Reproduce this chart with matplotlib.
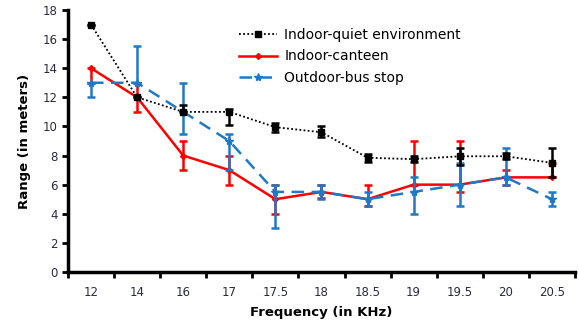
import numpy as np
import matplotlib.pyplot as plt

freqs = ['12', '14', '16', '17', '17.5', '18', '18.5', '19', '19.5', '20', '20.5']

quiet = [17, 12, 11, 11, 9.95, 9.6, 7.85, 7.75, 7.95, 7.95, 7.5]
quiet_lo = [0, 0, 0, 0.9, 0.35, 0.35, 0.3, 0.2, 0.6, 0.2, 1.0]
quiet_hi = [0, 0, 0.5, 0.2, 0.3, 0.4, 0.25, 0.2, 0.6, 0.2, 1.0]

canteen = [14, 12, 8, 7, 5, 5.5, 5, 6, 6, 6.5, 6.5]
canteen_lo = [1, 1, 1, 1, 1, 0.45, 0.5, 0, 0.5, 0.5, 0]
canteen_hi = [0, 1, 1, 1, 1, 0.5, 1, 3, 3, 0.5, 1]

bus = [13, 13, 11, 9, 5.5, 5.5, 5, 5.5, 6, 6.5, 5]
bus_lo = [1, 0, 1.5, 2, 2.5, 0.5, 0.5, 1.5, 1.5, 0.5, 0.5]
bus_hi = [0, 2.5, 2, 0.5, 0.5, 0.5, 0.5, 1, 1.5, 2, 0.5]

x = np.arange(len(freqs))

fig = plt.figure(figsize=(5.79, 3.23), dpi=100)
ax = fig.add_axes([0.1174, 0.158, 0.8756, 0.811])

c1 = ax.errorbar(x, canteen, yerr=[canteen_lo, canteen_hi], color='#ff0000', lw=1.8,
                 marker='D', ms=3, capsize=3, capthick=1.8, elinewidth=1.8, zorder=2)
c2 = ax.errorbar(x, bus, yerr=[bus_lo, bus_hi], color='#1f78c8', lw=1.8, ls=(0, (5, 3)),
                 marker='*', ms=6, capsize=3, capthick=1.8, elinewidth=1.8, zorder=3)
c0 = ax.errorbar(x, quiet, yerr=[quiet_lo, quiet_hi], color='black', lw=1.3, ls=(0, (1, 1.3)),
                 marker='s', ms=4.5, capsize=3, capthick=1.8, elinewidth=1.8, zorder=4)

ax.set_xlim(-0.5, len(freqs) - 0.5)
ax.set_ylim(0, 18)
ax.set_yticks(range(0, 19, 2))
ax.set_xticks(x, freqs)
ax.set_xticks(np.arange(-0.5, len(freqs), 1), minor=True)
ax.tick_params(axis='x', which='major', length=0, pad=10)
ax.tick_params(axis='x', which='minor', length=4, width=2, direction='out')
ax.tick_params(axis='y', length=4, width=2, direction='out')
ax.tick_params(labelsize=8.5, labelcolor='#2a2a40')

for s in ['top', 'right']:
    ax.spines[s].set_visible(False)
for s in ['left', 'bottom']:
    ax.spines[s].set_linewidth(2.5)

ax.set_xlabel('Frequency (in KHz)', fontsize=9.5, fontweight='bold', labelpad=5)
ax.set_ylabel('Range (in meters)', fontsize=9.5, fontweight='bold', labelpad=8)

ax.legend([c0[0], c1[0], c2[0]],
          ['Indoor-quiet environment', 'Indoor-canteen', 'Outdoor-bus stop'],
          loc='upper right', bbox_to_anchor=(0.80, 0.98), frameon=False, fontsize=10,
          handlelength=2.8, handletextpad=0.5, labelspacing=0.55)

fig.savefig('out.png', dpi=100)
